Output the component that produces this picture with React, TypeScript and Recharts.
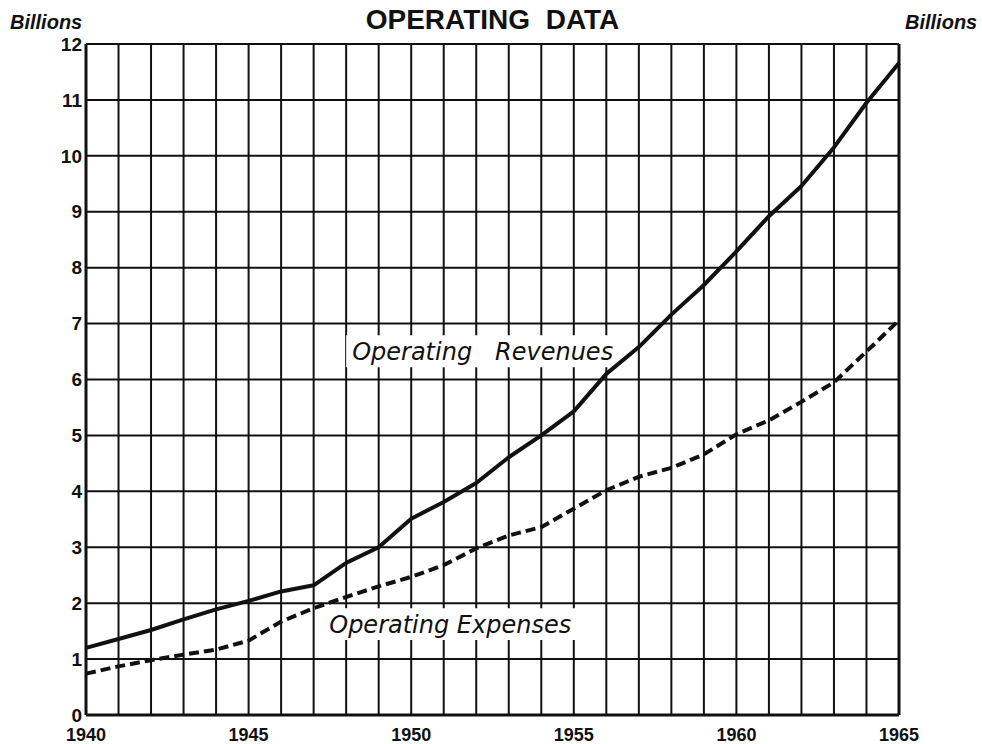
import React from 'react';
import { LineChart, Line, XAxis, YAxis, CartesianGrid, ReferenceArea } from 'recharts';

// Values, billions of dollars
const years = [
  1940, 1941, 1942, 1943, 1944, 1945, 1946, 1947, 1948, 1949, 1950, 1951, 1952,
  1953, 1954, 1955, 1956, 1957, 1958, 1959, 1960, 1961, 1962, 1963, 1964, 1965,
];
const revenues = [
  1.2, 1.36, 1.52, 1.71, 1.89, 2.04, 2.21, 2.32, 2.72, 3.0, 3.51, 3.81, 4.15,
  4.61, 5.0, 5.43, 6.1, 6.58, 7.16, 7.69, 8.29, 8.92, 9.46, 10.15, 10.95, 11.66,
];
const expenses = [
  0.74, 0.87, 0.98, 1.08, 1.17, 1.33, 1.67, 1.91, 2.11, 2.3, 2.47, 2.68, 2.98,
  3.21, 3.36, 3.69, 4.02, 4.26, 4.42, 4.66, 5.02, 5.27, 5.6, 5.95, 6.5, 7.06,
];
const yTicks = [0, 1, 2, 3, 4, 5, 6, 7, 8, 9, 10, 11, 12];

const SANS = '"Liberation Sans", Arial, sans-serif';
const ITALIC = '"DejaVu Sans", sans-serif';

const App: React.FC = () => {
  const data = years.map((year, i) => ({ year, revenues: revenues[i], expenses: expenses[i] }));

  const tickStyle = { fill: '#111', fontSize: 19, fontWeight: 700, fontFamily: SANS };
  const xTickStyle = { ...tickStyle, fontSize: 18 };
  const labelStyle = {
    fill: '#111',
    fontSize: 24,
    fontStyle: 'italic',
    fontFamily: ITALIC,
  };
  const billions: React.CSSProperties = {
    position: 'absolute', top: 11, fontFamily: SANS, fontStyle: 'italic',
    fontWeight: 700, fontSize: 20, color: '#111', lineHeight: 'normal',
  };

  return (
    <div style={{ position: 'relative', width: 982, height: 744, background: '#fff' }}>
      <style>{`body{margin:0}`}</style>
      <div
        style={{
          position: 'absolute', left: 0, width: 985, top: 4, textAlign: 'center',
          fontFamily: SANS, fontWeight: 700, fontSize: 28, color: '#111', lineHeight: 'normal',
          whiteSpace: 'pre',
        }}
      >
        {'OPERATING  DATA'}
      </div>
      <div style={{ ...billions, left: 10 }}>Billions</div>
      <div style={{ ...billions, left: 905 }}>Billions</div>

      <LineChart width={982} height={744} data={data} margin={{ top: 44, right: 0, bottom: 0, left: 0 }}>
        <CartesianGrid yAxisId="left" stroke="#111" strokeWidth={2} strokeOpacity={1} />
        <XAxis
          dataKey="year"
          type="number"
          domain={[1940, 1965]}
          ticks={years}
          interval={0}
          height={29}
          tickLine={false}
          tickSize={6}
          tickMargin={7}
          axisLine={{ stroke: '#111', strokeWidth: 3 }}
          tick={xTickStyle}
          tickFormatter={(v: number) => (v % 5 === 0 ? String(v) : '')}
        />
        <YAxis
          yAxisId="left"
          width={86}
          domain={[0, 12]}
          ticks={yTicks}
          interval={0}
          tickLine={false}
          tickSize={2}
          tickMargin={2}
          axisLine={{ stroke: '#111', strokeWidth: 3 }}
          tick={tickStyle}
        />
        <YAxis
          yAxisId="right"
          orientation="right"
          width={83}
          domain={[0, 12]}
          ticks={yTicks}
          interval={0}
          tickLine={false}
          tickSize={2}
          tickMargin={2}
          axisLine={{ stroke: '#111', strokeWidth: 3 }}
          tick={tickStyle}
        />
        <ReferenceArea
          yAxisId="left"
          x1={1948}
          x2={1956.1}
          y1={6.22}
          y2={6.79}
          fill="#fff"
          fillOpacity={1}
          stroke="none"
          label={{ value: 'Operating\u00a0\u00a0\u00a0Revenues', position: 'insideLeft', offset: 6, style: labelStyle }}
        />
        <ReferenceArea
          yAxisId="left"
          x1={1947.35}
          x2={1955.05}
          y1={1.34}
          y2={1.91}
          fill="#fff"
          fillOpacity={1}
          stroke="none"
          label={{ value: 'Operating Expenses', position: 'center', style: labelStyle }}
        />
        <Line
          yAxisId="left"
          type="linear"
          dataKey="revenues"
          stroke="#111"
          strokeWidth={4}
          dot={false}
          strokeLinejoin="round"
          isAnimationActive={false}
        />
        <Line
          yAxisId="left"
          type="linear"
          dataKey="expenses"
          stroke="#111"
          strokeWidth={4}
          strokeDasharray="10 5"
          dot={false}
          isAnimationActive={false}
        />
      </LineChart>
    </div>
  );
};

export default App;
